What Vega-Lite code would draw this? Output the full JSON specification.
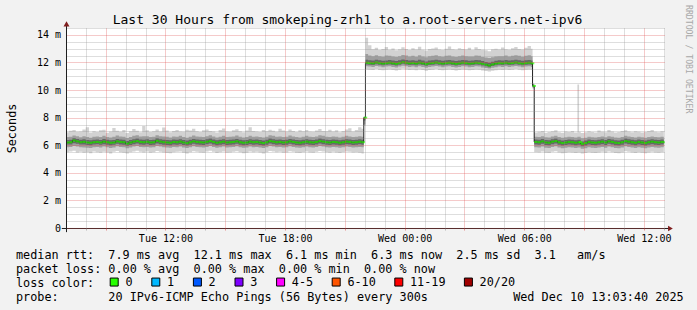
{
"$schema": "https://vega.github.io/schema/vega-lite/v6.json",
"width": 598, "height": 200,
"autosize": {"type": "none"},
"padding": {"left": 67, "top": 28, "right": 32, "bottom": 82},
"background": "#f2f2f2",
"title": {"text": "Last 30 Hours from smokeping-zrh1 to a.root-servers.net-ipv6", "font": "DejaVu Sans Mono", "fontSize": 13, "fontWeight": "normal", "color": "#000000", "anchor": "middle", "frame": "group", "baseline": "alphabetic", "offset": 0, "dy": 32.5, "dx": -18.5},
"datasets": {"ping": [
{"t":"2025-12-09T07:00Z","m":6.20,"a":5.50,"b":6.95,"c":5.85,"d":6.60,"e":6.05,"f":6.38},
{"t":"2025-12-09T07:10Z","m":6.22,"a":5.55,"b":7.05,"c":5.88,"d":6.62,"e":6.06,"f":6.40},
{"t":"2025-12-09T07:20Z","m":6.35,"a":5.60,"b":7.10,"c":5.95,"d":6.70,"e":6.15,"f":6.52},
{"t":"2025-12-09T07:30Z","m":6.28,"a":5.48,"b":6.98,"c":5.90,"d":6.65,"e":6.10,"f":6.45},
{"t":"2025-12-09T07:40Z","m":6.22,"a":5.52,"b":7.00,"c":5.86,"d":6.58,"e":6.05,"f":6.40},
{"t":"2025-12-09T07:50Z","m":6.25,"a":5.45,"b":7.15,"c":5.84,"d":6.66,"e":6.06,"f":6.44},
{"t":"2025-12-09T08:00Z","m":6.20,"a":5.50,"b":7.30,"c":5.82,"d":6.60,"e":6.02,"f":6.38},
{"t":"2025-12-09T08:10Z","m":6.18,"a":5.42,"b":6.92,"c":5.80,"d":6.55,"e":6.00,"f":6.36},
{"t":"2025-12-09T08:20Z","m":6.22,"a":5.55,"b":7.02,"c":5.86,"d":6.62,"e":6.05,"f":6.40},
{"t":"2025-12-09T08:30Z","m":6.24,"a":5.50,"b":6.96,"c":5.88,"d":6.64,"e":6.07,"f":6.42},
{"t":"2025-12-09T08:40Z","m":6.20,"a":5.46,"b":7.08,"c":5.83,"d":6.60,"e":6.03,"f":6.38},
{"t":"2025-12-09T08:50Z","m":6.26,"a":5.52,"b":7.12,"c":5.90,"d":6.68,"e":6.08,"f":6.45},
{"t":"2025-12-09T09:00Z","m":6.22,"a":5.48,"b":6.90,"c":5.85,"d":6.60,"e":6.04,"f":6.40},
{"t":"2025-12-09T09:10Z","m":6.18,"a":5.40,"b":7.00,"c":5.80,"d":6.56,"e":6.00,"f":6.36},
{"t":"2025-12-09T09:20Z","m":6.20,"a":5.52,"b":7.25,"c":5.84,"d":6.62,"e":6.03,"f":6.38},
{"t":"2025-12-09T09:30Z","m":6.28,"a":5.58,"b":7.05,"c":5.92,"d":6.70,"e":6.10,"f":6.46},
{"t":"2025-12-09T09:40Z","m":6.24,"a":5.50,"b":6.98,"c":5.88,"d":6.64,"e":6.06,"f":6.42},
{"t":"2025-12-09T09:50Z","m":6.22,"a":5.46,"b":7.10,"c":5.85,"d":6.62,"e":6.04,"f":6.40},
{"t":"2025-12-09T10:00Z","m":6.12,"a":5.40,"b":6.88,"c":5.78,"d":6.52,"e":5.96,"f":6.30},
{"t":"2025-12-09T10:10Z","m":6.20,"a":5.50,"b":7.02,"c":5.84,"d":6.60,"e":6.02,"f":6.38},
{"t":"2025-12-09T10:20Z","m":6.26,"a":5.55,"b":7.18,"c":5.90,"d":6.68,"e":6.08,"f":6.44},
{"t":"2025-12-09T10:30Z","m":6.30,"a":5.60,"b":7.05,"c":5.94,"d":6.72,"e":6.12,"f":6.48},
{"t":"2025-12-09T10:40Z","m":6.24,"a":5.52,"b":6.95,"c":5.88,"d":6.64,"e":6.06,"f":6.42},
{"t":"2025-12-09T10:50Z","m":6.22,"a":5.48,"b":7.40,"c":5.86,"d":6.66,"e":6.04,"f":6.40},
{"t":"2025-12-09T11:00Z","m":6.25,"a":5.54,"b":7.08,"c":5.88,"d":6.66,"e":6.07,"f":6.43},
{"t":"2025-12-09T11:10Z","m":6.20,"a":5.45,"b":6.96,"c":5.84,"d":6.60,"e":6.02,"f":6.38},
{"t":"2025-12-09T11:20Z","m":6.22,"a":5.50,"b":7.02,"c":5.86,"d":6.62,"e":6.04,"f":6.40},
{"t":"2025-12-09T11:30Z","m":6.32,"a":5.58,"b":7.14,"c":5.94,"d":6.72,"e":6.12,"f":6.50},
{"t":"2025-12-09T11:40Z","m":6.26,"a":5.52,"b":7.00,"c":5.90,"d":6.66,"e":6.08,"f":6.44},
{"t":"2025-12-09T11:50Z","m":6.22,"a":5.48,"b":7.28,"c":5.86,"d":6.64,"e":6.04,"f":6.40},
{"t":"2025-12-09T12:00Z","m":6.20,"a":5.44,"b":7.06,"c":5.84,"d":6.62,"e":6.02,"f":6.38},
{"t":"2025-12-09T12:10Z","m":6.18,"a":5.42,"b":6.94,"c":5.82,"d":6.56,"e":6.00,"f":6.36},
{"t":"2025-12-09T12:20Z","m":6.24,"a":5.50,"b":7.04,"c":5.88,"d":6.64,"e":6.06,"f":6.42},
{"t":"2025-12-09T12:30Z","m":6.22,"a":5.52,"b":7.10,"c":5.86,"d":6.62,"e":6.04,"f":6.40},
{"t":"2025-12-09T12:40Z","m":6.26,"a":5.55,"b":7.00,"c":5.90,"d":6.68,"e":6.08,"f":6.44},
{"t":"2025-12-09T12:50Z","m":6.20,"a":5.46,"b":6.98,"c":5.84,"d":6.60,"e":6.02,"f":6.38},
{"t":"2025-12-09T13:00Z","m":6.15,"a":5.40,"b":7.12,"c":5.80,"d":6.55,"e":5.98,"f":6.34},
{"t":"2025-12-09T13:10Z","m":6.22,"a":5.50,"b":7.06,"c":5.86,"d":6.62,"e":6.04,"f":6.40},
{"t":"2025-12-09T13:20Z","m":6.28,"a":5.56,"b":7.20,"c":5.92,"d":6.70,"e":6.10,"f":6.46},
{"t":"2025-12-09T13:30Z","m":6.24,"a":5.52,"b":7.02,"c":5.88,"d":6.64,"e":6.06,"f":6.42},
{"t":"2025-12-09T13:40Z","m":6.22,"a":5.48,"b":6.96,"c":5.86,"d":6.62,"e":6.04,"f":6.40},
{"t":"2025-12-09T13:50Z","m":6.20,"a":5.45,"b":7.08,"c":5.84,"d":6.60,"e":6.02,"f":6.38},
{"t":"2025-12-09T14:00Z","m":6.25,"a":5.54,"b":7.14,"c":5.88,"d":6.66,"e":6.07,"f":6.43},
{"t":"2025-12-09T14:10Z","m":6.30,"a":5.60,"b":7.04,"c":5.94,"d":6.72,"e":6.12,"f":6.48},
{"t":"2025-12-09T14:20Z","m":6.24,"a":5.52,"b":7.00,"c":5.88,"d":6.64,"e":6.06,"f":6.42},
{"t":"2025-12-09T14:30Z","m":6.18,"a":5.44,"b":6.92,"c":5.82,"d":6.56,"e":6.00,"f":6.36},
{"t":"2025-12-09T14:40Z","m":6.22,"a":5.50,"b":7.10,"c":5.86,"d":6.62,"e":6.04,"f":6.40},
{"t":"2025-12-09T14:50Z","m":6.26,"a":5.54,"b":7.22,"c":5.90,"d":6.68,"e":6.08,"f":6.44},
{"t":"2025-12-09T15:00Z","m":6.20,"a":5.46,"b":7.00,"c":5.84,"d":6.60,"e":6.02,"f":6.38},
{"t":"2025-12-09T15:10Z","m":6.22,"a":5.48,"b":6.98,"c":5.86,"d":6.62,"e":6.04,"f":6.40},
{"t":"2025-12-09T15:20Z","m":6.24,"a":5.52,"b":7.08,"c":5.88,"d":6.64,"e":6.06,"f":6.42},
{"t":"2025-12-09T15:30Z","m":6.28,"a":5.56,"b":7.16,"c":5.92,"d":6.70,"e":6.10,"f":6.46},
{"t":"2025-12-09T15:40Z","m":6.22,"a":5.50,"b":7.02,"c":5.86,"d":6.62,"e":6.04,"f":6.40},
{"t":"2025-12-09T15:50Z","m":6.18,"a":5.42,"b":6.94,"c":5.82,"d":6.56,"e":6.00,"f":6.36},
{"t":"2025-12-09T16:00Z","m":6.20,"a":5.46,"b":7.06,"c":5.84,"d":6.60,"e":6.02,"f":6.38},
{"t":"2025-12-09T16:10Z","m":6.26,"a":5.55,"b":7.30,"c":5.90,"d":6.68,"e":6.08,"f":6.44},
{"t":"2025-12-09T16:20Z","m":6.22,"a":5.50,"b":7.04,"c":5.86,"d":6.62,"e":6.04,"f":6.40},
{"t":"2025-12-09T16:30Z","m":6.24,"a":5.52,"b":7.00,"c":5.88,"d":6.64,"e":6.06,"f":6.42},
{"t":"2025-12-09T16:40Z","m":6.20,"a":5.48,"b":6.96,"c":5.84,"d":6.60,"e":6.02,"f":6.38},
{"t":"2025-12-09T16:50Z","m":6.16,"a":5.40,"b":7.10,"c":5.80,"d":6.56,"e":5.98,"f":6.34},
{"t":"2025-12-09T17:00Z","m":6.22,"a":5.50,"b":7.02,"c":5.86,"d":6.62,"e":6.04,"f":6.40},
{"t":"2025-12-09T17:10Z","m":6.30,"a":5.58,"b":7.12,"c":5.94,"d":6.72,"e":6.12,"f":6.48},
{"t":"2025-12-09T17:20Z","m":6.26,"a":5.54,"b":7.05,"c":5.90,"d":6.68,"e":6.08,"f":6.44},
{"t":"2025-12-09T17:30Z","m":6.22,"a":5.50,"b":6.98,"c":5.86,"d":6.62,"e":6.04,"f":6.40},
{"t":"2025-12-09T17:40Z","m":6.24,"a":5.52,"b":7.20,"c":5.88,"d":6.64,"e":6.06,"f":6.42},
{"t":"2025-12-09T17:50Z","m":6.20,"a":5.46,"b":7.06,"c":5.84,"d":6.60,"e":6.02,"f":6.38},
{"t":"2025-12-09T18:00Z","m":6.22,"a":5.48,"b":7.00,"c":5.86,"d":6.62,"e":6.04,"f":6.40},
{"t":"2025-12-09T18:10Z","m":6.28,"a":5.56,"b":7.14,"c":5.92,"d":6.70,"e":6.10,"f":6.46},
{"t":"2025-12-09T18:20Z","m":6.24,"a":5.52,"b":7.04,"c":5.88,"d":6.64,"e":6.06,"f":6.42},
{"t":"2025-12-09T18:30Z","m":6.20,"a":5.46,"b":6.96,"c":5.84,"d":6.60,"e":6.02,"f":6.38},
{"t":"2025-12-09T18:40Z","m":6.18,"a":5.44,"b":7.08,"c":5.82,"d":6.56,"e":6.00,"f":6.36},
{"t":"2025-12-09T18:50Z","m":6.22,"a":5.50,"b":7.02,"c":5.86,"d":6.62,"e":6.04,"f":6.40},
{"t":"2025-12-09T19:00Z","m":6.26,"a":5.54,"b":7.10,"c":5.90,"d":6.68,"e":6.08,"f":6.44},
{"t":"2025-12-09T19:10Z","m":6.22,"a":5.48,"b":7.00,"c":5.86,"d":6.62,"e":6.04,"f":6.40},
{"t":"2025-12-09T19:20Z","m":6.20,"a":5.46,"b":6.98,"c":5.84,"d":6.60,"e":6.02,"f":6.38},
{"t":"2025-12-09T19:30Z","m":6.24,"a":5.52,"b":7.06,"c":5.88,"d":6.64,"e":6.06,"f":6.42},
{"t":"2025-12-09T19:40Z","m":6.30,"a":5.58,"b":7.18,"c":5.94,"d":6.72,"e":6.12,"f":6.48},
{"t":"2025-12-09T19:50Z","m":6.26,"a":5.54,"b":7.04,"c":5.90,"d":6.68,"e":6.08,"f":6.44},
{"t":"2025-12-09T20:00Z","m":6.22,"a":5.50,"b":7.02,"c":5.86,"d":6.62,"e":6.04,"f":6.40},
{"t":"2025-12-09T20:10Z","m":6.20,"a":5.46,"b":7.12,"c":5.84,"d":6.60,"e":6.02,"f":6.38},
{"t":"2025-12-09T20:20Z","m":6.24,"a":5.52,"b":7.00,"c":5.88,"d":6.64,"e":6.06,"f":6.42},
{"t":"2025-12-09T20:30Z","m":6.22,"a":5.48,"b":7.08,"c":5.86,"d":6.62,"e":6.04,"f":6.40},
{"t":"2025-12-09T20:40Z","m":6.18,"a":5.44,"b":6.94,"c":5.82,"d":6.56,"e":6.00,"f":6.36},
{"t":"2025-12-09T20:50Z","m":6.22,"a":5.50,"b":7.04,"c":5.86,"d":6.62,"e":6.04,"f":6.40},
{"t":"2025-12-09T21:00Z","m":6.26,"a":5.54,"b":7.14,"c":5.90,"d":6.68,"e":6.08,"f":6.44},
{"t":"2025-12-09T21:10Z","m":6.24,"a":5.52,"b":7.24,"c":5.88,"d":6.64,"e":6.06,"f":6.42},
{"t":"2025-12-09T21:20Z","m":6.20,"a":5.48,"b":7.00,"c":5.84,"d":6.60,"e":6.02,"f":6.38},
{"t":"2025-12-09T21:30Z","m":6.22,"a":5.50,"b":7.10,"c":5.86,"d":6.62,"e":6.04,"f":6.40},
{"t":"2025-12-09T21:40Z","m":6.25,"a":5.46,"b":7.30,"c":5.88,"d":6.66,"e":6.07,"f":6.43},
{"t":"2025-12-09T21:50Z","m":6.22,"a":5.40,"b":7.20,"c":5.86,"d":6.62,"e":6.04,"f":6.40},
{"t":"2025-12-09T21:57Z","m":8.00,"a":7.40,"b":8.10,"c":7.50,"d":8.02,"e":7.80,"f":8.00},
{"t":"2025-12-09T22:02Z","m":11.98,"a":11.50,"b":13.80,"c":11.72,"d":12.62,"e":11.86,"f":12.20},
{"t":"2025-12-09T22:10Z","m":11.96,"a":11.48,"b":13.25,"c":11.70,"d":12.50,"e":11.84,"f":12.16},
{"t":"2025-12-09T22:20Z","m":11.94,"a":11.45,"b":12.96,"c":11.68,"d":12.45,"e":11.82,"f":12.14},
{"t":"2025-12-09T22:30Z","m":12.00,"a":11.52,"b":13.06,"c":11.74,"d":12.52,"e":11.88,"f":12.20},
{"t":"2025-12-09T22:40Z","m":11.96,"a":11.46,"b":12.90,"c":11.70,"d":12.46,"e":11.84,"f":12.16},
{"t":"2025-12-09T22:50Z","m":11.92,"a":11.44,"b":12.98,"c":11.66,"d":12.42,"e":11.80,"f":12.12},
{"t":"2025-12-09T23:00Z","m":11.95,"a":11.48,"b":13.12,"c":11.70,"d":12.50,"e":11.83,"f":12.15},
{"t":"2025-12-09T23:10Z","m":11.98,"a":11.50,"b":12.92,"c":11.72,"d":12.48,"e":11.86,"f":12.18},
{"t":"2025-12-09T23:20Z","m":11.94,"a":11.45,"b":13.02,"c":11.68,"d":12.44,"e":11.82,"f":12.14},
{"t":"2025-12-09T23:30Z","m":11.90,"a":11.42,"b":12.88,"c":11.64,"d":12.40,"e":11.78,"f":12.10},
{"t":"2025-12-09T23:40Z","m":11.96,"a":11.48,"b":12.96,"c":11.70,"d":12.46,"e":11.84,"f":12.16},
{"t":"2025-12-09T23:50Z","m":12.02,"a":11.54,"b":13.10,"c":11.76,"d":12.54,"e":11.90,"f":12.22},
{"t":"2025-12-10T00:00Z","m":11.98,"a":11.50,"b":12.98,"c":11.72,"d":12.50,"e":11.86,"f":12.18},
{"t":"2025-12-10T00:10Z","m":11.94,"a":11.46,"b":12.90,"c":11.68,"d":12.44,"e":11.82,"f":12.14},
{"t":"2025-12-10T00:20Z","m":11.96,"a":11.48,"b":13.04,"c":11.70,"d":12.48,"e":11.84,"f":12.16},
{"t":"2025-12-10T00:30Z","m":11.92,"a":11.44,"b":12.94,"c":11.66,"d":12.42,"e":11.80,"f":12.12},
{"t":"2025-12-10T00:40Z","m":11.98,"a":11.50,"b":13.14,"c":11.72,"d":12.52,"e":11.86,"f":12.20},
{"t":"2025-12-10T00:50Z","m":11.94,"a":11.46,"b":12.92,"c":11.68,"d":12.44,"e":11.82,"f":12.14},
{"t":"2025-12-10T01:00Z","m":11.88,"a":11.40,"b":12.86,"c":11.62,"d":12.38,"e":11.76,"f":12.08},
{"t":"2025-12-10T01:10Z","m":11.94,"a":11.46,"b":12.98,"c":11.68,"d":12.46,"e":11.82,"f":12.14},
{"t":"2025-12-10T01:20Z","m":11.96,"a":11.48,"b":13.02,"c":11.70,"d":12.48,"e":11.84,"f":12.16},
{"t":"2025-12-10T01:30Z","m":12.00,"a":11.52,"b":13.08,"c":11.74,"d":12.52,"e":11.88,"f":12.20},
{"t":"2025-12-10T01:40Z","m":11.96,"a":11.46,"b":12.94,"c":11.70,"d":12.46,"e":11.84,"f":12.16},
{"t":"2025-12-10T01:50Z","m":11.92,"a":11.44,"b":12.90,"c":11.66,"d":12.42,"e":11.80,"f":12.12},
{"t":"2025-12-10T02:00Z","m":11.96,"a":11.48,"b":13.00,"c":11.70,"d":12.48,"e":11.84,"f":12.16},
{"t":"2025-12-10T02:10Z","m":11.98,"a":11.50,"b":13.16,"c":11.72,"d":12.50,"e":11.86,"f":12.18},
{"t":"2025-12-10T02:20Z","m":11.94,"a":11.46,"b":12.96,"c":11.68,"d":12.44,"e":11.82,"f":12.14},
{"t":"2025-12-10T02:30Z","m":11.90,"a":11.42,"b":12.92,"c":11.64,"d":12.40,"e":11.78,"f":12.10},
{"t":"2025-12-10T02:40Z","m":11.94,"a":11.46,"b":13.04,"c":11.68,"d":12.46,"e":11.82,"f":12.14},
{"t":"2025-12-10T02:50Z","m":11.98,"a":11.50,"b":12.98,"c":11.72,"d":12.50,"e":11.86,"f":12.18},
{"t":"2025-12-10T03:00Z","m":11.96,"a":11.48,"b":12.94,"c":11.70,"d":12.46,"e":11.84,"f":12.16},
{"t":"2025-12-10T03:10Z","m":11.92,"a":11.44,"b":13.06,"c":11.66,"d":12.44,"e":11.80,"f":12.12},
{"t":"2025-12-10T03:20Z","m":11.94,"a":11.46,"b":12.90,"c":11.68,"d":12.44,"e":11.82,"f":12.14},
{"t":"2025-12-10T03:30Z","m":11.98,"a":11.50,"b":13.10,"c":11.72,"d":12.50,"e":11.86,"f":12.18},
{"t":"2025-12-10T03:40Z","m":11.96,"a":11.48,"b":12.98,"c":11.70,"d":12.48,"e":11.84,"f":12.16},
{"t":"2025-12-10T03:50Z","m":11.90,"a":11.42,"b":12.92,"c":11.64,"d":12.40,"e":11.78,"f":12.10},
{"t":"2025-12-10T04:00Z","m":11.84,"a":11.38,"b":12.88,"c":11.60,"d":12.36,"e":11.72,"f":12.04},
{"t":"2025-12-10T04:10Z","m":11.78,"a":11.34,"b":12.82,"c":11.56,"d":12.32,"e":11.66,"f":11.98},
{"t":"2025-12-10T04:20Z","m":11.86,"a":11.40,"b":12.96,"c":11.62,"d":12.38,"e":11.74,"f":12.06},
{"t":"2025-12-10T04:30Z","m":11.92,"a":11.44,"b":13.00,"c":11.66,"d":12.44,"e":11.80,"f":12.12},
{"t":"2025-12-10T04:40Z","m":11.96,"a":11.48,"b":12.94,"c":11.70,"d":12.46,"e":11.84,"f":12.16},
{"t":"2025-12-10T04:50Z","m":11.94,"a":11.46,"b":13.08,"c":11.68,"d":12.46,"e":11.82,"f":12.14},
{"t":"2025-12-10T05:00Z","m":11.98,"a":11.50,"b":12.96,"c":11.72,"d":12.50,"e":11.86,"f":12.18},
{"t":"2025-12-10T05:10Z","m":11.94,"a":11.46,"b":12.92,"c":11.68,"d":12.44,"e":11.82,"f":12.14},
{"t":"2025-12-10T05:20Z","m":11.96,"a":11.48,"b":13.04,"c":11.70,"d":12.48,"e":11.84,"f":12.16},
{"t":"2025-12-10T05:30Z","m":12.00,"a":11.52,"b":13.12,"c":11.74,"d":12.52,"e":11.88,"f":12.20},
{"t":"2025-12-10T05:40Z","m":11.96,"a":11.48,"b":12.98,"c":11.70,"d":12.48,"e":11.84,"f":12.16},
{"t":"2025-12-10T05:50Z","m":11.92,"a":11.44,"b":12.94,"c":11.66,"d":12.42,"e":11.80,"f":12.12},
{"t":"2025-12-10T06:00Z","m":11.96,"a":11.48,"b":13.06,"c":11.70,"d":12.48,"e":11.84,"f":12.16},
{"t":"2025-12-10T06:10Z","m":11.98,"a":11.50,"b":13.20,"c":11.72,"d":12.52,"e":11.86,"f":12.18},
{"t":"2025-12-10T06:20Z","m":11.94,"a":11.46,"b":13.00,"c":11.68,"d":12.46,"e":11.82,"f":12.14},
{"t":"2025-12-10T06:25Z","m":10.30,"a":10.10,"b":10.50,"c":10.16,"d":10.44,"e":10.22,"f":10.38},
{"t":"2025-12-10T06:30Z","m":6.24,"a":5.50,"b":6.92,"c":5.86,"d":6.62,"e":6.06,"f":6.42},
{"t":"2025-12-10T06:40Z","m":6.22,"a":5.48,"b":6.98,"c":5.84,"d":6.60,"e":6.04,"f":6.40},
{"t":"2025-12-10T06:50Z","m":6.28,"a":5.54,"b":7.04,"c":5.90,"d":6.66,"e":6.10,"f":6.46},
{"t":"2025-12-10T07:00Z","m":6.20,"a":5.46,"b":6.90,"c":5.82,"d":6.58,"e":6.02,"f":6.38},
{"t":"2025-12-10T07:10Z","m":6.18,"a":5.44,"b":6.96,"c":5.80,"d":6.56,"e":6.00,"f":6.36},
{"t":"2025-12-10T07:20Z","m":6.26,"a":5.52,"b":7.02,"c":5.88,"d":6.64,"e":6.08,"f":6.44},
{"t":"2025-12-10T07:30Z","m":6.30,"a":5.56,"b":7.08,"c":5.92,"d":6.68,"e":6.12,"f":6.48},
{"t":"2025-12-10T07:40Z","m":6.22,"a":5.48,"b":6.94,"c":5.84,"d":6.60,"e":6.04,"f":6.40},
{"t":"2025-12-10T07:50Z","m":6.16,"a":5.42,"b":6.90,"c":5.78,"d":6.54,"e":5.98,"f":6.34},
{"t":"2025-12-10T08:00Z","m":6.20,"a":5.46,"b":7.00,"c":5.82,"d":6.58,"e":6.02,"f":6.38},
{"t":"2025-12-10T08:10Z","m":6.24,"a":5.50,"b":6.96,"c":5.86,"d":6.62,"e":6.06,"f":6.42},
{"t":"2025-12-10T08:20Z","m":6.22,"a":5.48,"b":7.04,"c":5.84,"d":6.60,"e":6.04,"f":6.40},
{"t":"2025-12-10T08:30Z","m":6.18,"a":5.44,"b":6.92,"c":5.80,"d":6.56,"e":6.00,"f":6.36},
{"t":"2025-12-10T08:40Z","m":6.22,"a":5.48,"b":10.40,"c":5.84,"d":6.62,"e":6.04,"f":6.40},
{"t":"2025-12-10T08:45Z","m":6.22,"a":5.48,"b":6.98,"c":5.84,"d":6.62,"e":6.04,"f":6.40},
{"t":"2025-12-10T08:50Z","m":6.10,"a":5.40,"b":6.88,"c":5.74,"d":6.50,"e":5.92,"f":6.28},
{"t":"2025-12-10T09:00Z","m":6.16,"a":5.44,"b":6.94,"c":5.78,"d":6.54,"e":5.98,"f":6.34},
{"t":"2025-12-10T09:10Z","m":6.24,"a":5.50,"b":7.02,"c":5.86,"d":6.62,"e":6.06,"f":6.42},
{"t":"2025-12-10T09:20Z","m":6.20,"a":5.46,"b":6.96,"c":5.82,"d":6.58,"e":6.02,"f":6.38},
{"t":"2025-12-10T09:30Z","m":6.18,"a":5.44,"b":6.92,"c":5.80,"d":6.56,"e":6.00,"f":6.36},
{"t":"2025-12-10T09:40Z","m":6.22,"a":5.48,"b":7.06,"c":5.84,"d":6.60,"e":6.04,"f":6.40},
{"t":"2025-12-10T09:50Z","m":6.26,"a":5.52,"b":6.98,"c":5.88,"d":6.64,"e":6.08,"f":6.44},
{"t":"2025-12-10T10:00Z","m":6.20,"a":5.46,"b":6.94,"c":5.82,"d":6.58,"e":6.02,"f":6.38},
{"t":"2025-12-10T10:10Z","m":6.28,"a":5.54,"b":7.10,"c":5.90,"d":6.66,"e":6.10,"f":6.46},
{"t":"2025-12-10T10:20Z","m":6.24,"a":5.50,"b":7.00,"c":5.86,"d":6.62,"e":6.06,"f":6.42},
{"t":"2025-12-10T10:30Z","m":6.18,"a":5.44,"b":6.92,"c":5.80,"d":6.56,"e":6.00,"f":6.36},
{"t":"2025-12-10T10:40Z","m":6.16,"a":5.42,"b":6.96,"c":5.78,"d":6.54,"e":5.98,"f":6.34},
{"t":"2025-12-10T10:50Z","m":6.22,"a":5.48,"b":7.04,"c":5.84,"d":6.60,"e":6.04,"f":6.40},
{"t":"2025-12-10T11:00Z","m":6.30,"a":5.56,"b":7.08,"c":5.92,"d":6.68,"e":6.12,"f":6.48},
{"t":"2025-12-10T11:10Z","m":6.26,"a":5.52,"b":7.00,"c":5.88,"d":6.64,"e":6.08,"f":6.44},
{"t":"2025-12-10T11:20Z","m":6.22,"a":5.48,"b":6.94,"c":5.84,"d":6.60,"e":6.04,"f":6.40},
{"t":"2025-12-10T11:30Z","m":6.18,"a":5.44,"b":7.02,"c":5.80,"d":6.56,"e":6.00,"f":6.36},
{"t":"2025-12-10T11:40Z","m":6.24,"a":5.50,"b":6.98,"c":5.86,"d":6.62,"e":6.06,"f":6.42},
{"t":"2025-12-10T11:50Z","m":6.20,"a":5.46,"b":6.92,"c":5.82,"d":6.58,"e":6.02,"f":6.38},
{"t":"2025-12-10T12:00Z","m":6.16,"a":5.42,"b":6.96,"c":5.78,"d":6.54,"e":5.98,"f":6.34},
{"t":"2025-12-10T12:10Z","m":6.22,"a":5.48,"b":7.04,"c":5.84,"d":6.60,"e":6.04,"f":6.40},
{"t":"2025-12-10T12:20Z","m":6.26,"a":5.52,"b":7.10,"c":5.88,"d":6.64,"e":6.08,"f":6.44},
{"t":"2025-12-10T12:30Z","m":6.22,"a":5.48,"b":6.98,"c":5.84,"d":6.60,"e":6.04,"f":6.40},
{"t":"2025-12-10T12:40Z","m":6.20,"a":5.46,"b":6.94,"c":5.82,"d":6.58,"e":6.02,"f":6.38},
{"t":"2025-12-10T12:50Z","m":6.24,"a":5.50,"b":7.02,"c":5.86,"d":6.62,"e":6.06,"f":6.42},
{"t":"2025-12-10T13:00Z","m":6.22,"a":5.48,"b":6.96,"c":5.84,"d":6.60,"e":6.04,"f":6.40}
]},
"data": {"name": "ping"},
"layer": [
{"mark": {"type": "area", "interpolate": "step-after", "color": "#d2d2d2", "clip": true},
 "encoding": {
  "x": {"field": "t", "type": "temporal",
   "scale": {"type": "utc", "domain": [1765263820000, 1765371820000], "nice": false},
   "axis": {"orient": "bottom", "zindex": 1, "tickCount": 100,
    "values": [1765267200000, 1765270800000, 1765274400000, 1765278000000, 1765281600000, 1765285200000, 1765288800000, 1765292400000, 1765296000000, 1765299600000, 1765303200000, 1765306800000, 1765310400000, 1765314000000, 1765317600000, 1765321200000, 1765324800000, 1765328400000, 1765332000000, 1765335600000, 1765339200000, 1765342800000, 1765346400000, 1765350000000, 1765353600000, 1765357200000, 1765360800000, 1765364400000, 1765368000000, 1765371600000],
    "domain": false,
    "grid": true, "gridDash": [1, 1], "gridOpacity": 0.6,
    "gridColor": {"condition": {"test": "utchours(datum.value) % 3 == 0", "value": "#de4f4f"}, "value": "#8f8f8f"},
    "ticks": true, "tickSize": 2, "tickOpacity": 0.6,
    "tickColor": {"condition": {"test": "utchours(datum.value) % 3 == 0", "value": "#de4f4f"}, "value": "#8f8f8f"},
    "labelExpr": "utchours(datum.value) % 6 == 0 ? utcFormat(datum.value, '%a %H:%M') : ''",
    "labelFontSize": {"condition": {"test": "utchours(datum.value) % 6 == 0", "value": 10}, "value": 0},
    "labelOverlap": false, "labelFlush": false, "labelFont": "DejaVu Sans Mono", "labelColor": "#000000", "labelPadding": 3,
    "title": ["median rtt:\u00a0 7.9 ms avg\u00a0 12.1 ms max\u00a0 6.1 ms min\u00a0 6.3 ms now\u00a0 2.5 ms sd\u00a0 3.1\u00a0\u00a0 am/s", "packet loss: 0.00 % avg\u00a0 0.00 % max\u00a0 0.00 % min\u00a0 0.00 % now", "loss color:", "probe:\u00a0\u00a0\u00a0\u00a0\u00a0\u00a0 20 IPv6-ICMP Echo Pings (56 Bytes) every 300s\u00a0\u00a0\u00a0\u00a0\u00a0\u00a0\u00a0\u00a0\u00a0\u00a0\u00a0 Wed Dec 10 13:03:40 2025"],
    "titleFont": "DejaVu Sans Mono", "titleFontSize": 11.8, "titleFontWeight": "normal", "titleColor": "#000000", "titleAlign": "left", "titleAnchor": "start", "titleBaseline": "alphabetic", "titleLineHeight": 14, "titleX": -51.5, "titleY": 30.5}},
  "y": {"field": "a", "type": "quantitative", "scale": {"domain": [0, 14.5], "nice": false},
   "axis": {"orient": "left", "zindex": 1, "tickCount": 100,
    "values": [0, 0.5, 1, 1.5, 2, 2.5, 3, 3.5, 4, 4.5, 5, 5.5, 6, 6.5, 7, 7.5, 8, 8.5, 9, 9.5, 10, 10.5, 11, 11.5, 12, 12.5, 13, 13.5, 14, 14.5],
    "domain": false, "ticks": false,
    "grid": true, "gridDash": [1, 1], "gridOpacity": 0.6,
    "gridColor": {"condition": {"test": "datum.value % 2 == 0", "value": "#de4f4f"}, "value": "#8f8f8f"},
    "labelExpr": "datum.value % 2 == 0 ? (datum.value == 0 ? '0' : datum.value + ' m') : ''",
    "labelFontSize": {"condition": {"test": "datum.value % 2 == 0", "value": 10}, "value": 0},
    "labelOverlap": false, "labelFont": "DejaVu Sans Mono", "labelColor": "#000000", "labelPadding": 6.5,
    "title": "Seconds", "titleFont": "DejaVu Sans Mono", "titleFontSize": 11.8, "titleFontWeight": "normal", "titleColor": "#000000", "titleBaseline": "middle", "titleX": -55.5}},
  "y2": {"field": "b"}}},
{"mark": {"type": "area", "interpolate": "step-after", "color": "#9e9e9e", "clip": true},
 "encoding": {
  "x": {"field": "t", "type": "temporal"},
  "y": {"field": "c", "type": "quantitative"},
  "y2": {"field": "d"}}},
{"mark": {"type": "area", "interpolate": "step-after", "color": "#666666", "clip": true},
 "encoding": {
  "x": {"field": "t", "type": "temporal"},
  "y": {"field": "e", "type": "quantitative"},
  "y2": {"field": "f"}}},
{"mark": {"type": "line", "interpolate": "step-after", "color": "#202020", "strokeWidth": 1, "clip": true},
 "encoding": {
  "x": {"field": "t", "type": "temporal"},
  "y": {"field": "m", "type": "quantitative"}}},
{"mark": {"type": "tick", "orient": "horizontal", "thickness": 2, "size": 3.4, "xOffset": 1.7, "clip": true},
 "encoding": {
  "x": {"field": "t", "type": "temporal"},
  "y": {"field": "m", "type": "quantitative"},
  "color": {"datum": "0", "type": "nominal",
   "scale": {"domain": ["0", "1", "2", "3", "4-5", "6-10", "11-19", "20/20"], "range": ["#26ff00", "#00b8ff", "#0059ff", "#7e00ff", "#ff00ff", "#ff5500", "#ff0000", "#a10000"]},
   "legend": {"title": null, "orient": "none", "legendX": 41.3, "legendY": 248, "direction": "horizontal", "symbolType": "square", "symbolSize": 64, "symbolStrokeWidth": 1, "symbolStrokeColor": "#000000", "symbolOpacity": 1, "labelFont": "DejaVu Sans Mono", "labelFontSize": 11.8, "labelColor": "#000000", "labelOffset": 5.3, "columnPadding": 15.6, "padding": 0}}}},
{"data": {"values": [{}]},
 "mark": {"type": "rule", "color": "#1f1f1f", "strokeWidth": 1},
 "encoding": {
  "x": {"datum": 1765262880000, "type": "temporal"},
  "x2": {"datum": 1765372560000},
  "y": {"datum": -0.036, "type": "quantitative"}}},
{"data": {"values": [{}]},
 "mark": {"type": "rule", "color": "#1f1f1f", "strokeWidth": 1},
 "encoding": {
  "x": {"datum": 1765263730000, "type": "temporal"},
  "y": {"datum": -0.3, "type": "quantitative"},
  "y2": {"datum": 14.7}}},
{"data": {"values": [{}]},
 "mark": {"type": "point", "shape": "triangle-up", "size": 36, "filled": true, "color": "#801f1f", "opacity": 1},
 "encoding": {
  "x": {"datum": 1765263730000, "type": "temporal"},
  "y": {"datum": 14.8, "type": "quantitative"}}},
{"data": {"values": [{}]},
 "mark": {"type": "point", "shape": "triangle-right", "size": 30, "filled": true, "color": "#801f1f", "opacity": 1},
 "encoding": {
  "x": {"datum": 1765372800000, "type": "temporal"},
  "y": {"datum": -0.036, "type": "quantitative"}}},
{"data": {"values": [{}]},
 "mark": {"type": "text", "angle": 90, "align": "left", "baseline": "middle", "font": "DejaVu Sans Mono", "fontSize": 8.2, "color": "#a8a8a8"},
 "encoding": {
  "x": {"datum": 1765375885000, "type": "temporal"},
  "y": {"datum": 16.17, "type": "quantitative"},
  "text": {"value": "RRDTOOL / TOBI OETIKER"}}}
],
"config": {"view": {"fill": "#ffffff", "stroke": null}, "font": "DejaVu Sans Mono"}
}
